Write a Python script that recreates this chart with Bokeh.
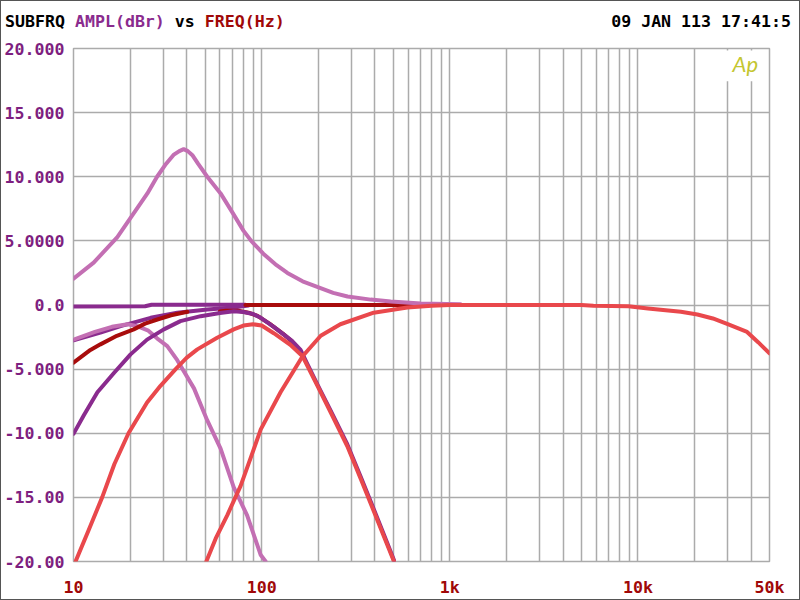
import math
from bokeh.plotting import figure
from bokeh.models import FixedTicker, Label, Range1d, Div
from bokeh.layouts import column
from bokeh.embed import file_html
from bokeh.resources import INLINE

# ---------------- data (Hz, dBr) ----------------
peak_f = [10, 12.8, 17.1, 20.1, 24.7, 27.8, 31, 34, 36.5, 38.5, 40.5, 43, 46, 51.4, 60.5, 70,
          80, 88, 102, 120, 137, 165, 199, 240, 286, 380, 485, 700, 1140]
peak_db = [2.05, 3.3, 5.3, 6.8, 8.7, 10.0, 11.0, 11.7, 12.0, 12.15, 12.0, 11.65, 11.0, 10.0,
           8.7, 7.2, 5.8, 5.0, 4.0, 3.1, 2.5, 1.85, 1.4, 0.95, 0.66, 0.42, 0.27, 0.12, 0.05]

flat_p_f = [10, 24, 26, 82]
flat_p_db = [-0.12, -0.1, 0.02, 0.02]

flat_r_f = [82, 730]
flat_r_db = [0.0, 0.0]

hp_f = [50.8, 57, 65.6, 77.3, 88, 98.9, 126, 165, 206, 262, 394, 594, 800, 1000, 2000, 5000,
        5800, 8900, 11300, 16900, 20700, 25000, 30000, 38000, 43500, 50000]
hp_db = [-20, -18.2, -16.4, -14.1, -11.8, -9.7, -6.8, -4.0, -2.4, -1.5, -0.6, -0.2, -0.05, 0, 0, 0,
         -0.05, -0.1, -0.27, -0.53, -0.74, -1.05, -1.5, -2.1, -2.9, -3.77]

bp_f = [10.25, 12, 14.2, 16.5, 19.6, 24.6, 29, 34.9, 40, 45.5, 58, 71, 80, 90, 100, 116, 142,
        165, 198, 233, 285, 336, 395, 465, 505]
bp_db = [-20, -17.6, -15, -12.4, -10, -7.6, -6.3, -5.0, -4.1, -3.46, -2.55, -1.9, -1.6, -1.5,
         -1.6, -2.2, -3.1, -4.0, -6.3, -8.4, -11.0, -13.55, -16.1, -18.7, -20]

lp_p_f = [10, 11.35, 13.4, 16.4, 20.1, 24.6, 30.2, 37, 47.4, 60, 71, 80, 90, 99, 116, 145, 161,
          175, 198, 233, 285, 336, 395, 465, 505]
lp_p_db = [-10.05, -8.6, -6.8, -5.3, -3.85, -2.7, -1.9, -1.26, -0.87, -0.62, -0.48, -0.55, -0.7,
           -1.0, -1.7, -2.8, -3.5, -4.6, -6.2, -8.25, -10.85, -13.4, -15.95, -18.55, -19.9]

lp_r_f = [60, 64.5, 75, 85, 95, 110, 130, 145, 157, 165]
lp_r_db = [-0.5, -0.44, -0.45, -0.6, -0.85, -1.45, -2.25, -2.85, -3.45, -4.0]

sh_r_f = [10, 12.3, 13.9, 17, 20.9, 24, 27.9, 33, 40.3]
sh_r_db = [-4.5, -3.5, -3.07, -2.4, -1.9, -1.45, -1.13, -0.8, -0.53]

sh_p_f = [10, 13.9, 17.8, 25.7, 35.6, 51.4, 71, 85]
sh_p_db = [-2.76, -2.16, -1.65, -1.0, -0.6, -0.35, -0.2, -0.05]

lo_f = [10, 13, 16, 19.4, 21.8, 25, 27.8, 31.5, 35.6, 43.7, 51.4, 60.5, 71, 83.7, 98.9, 105]
lo_db = [-2.7, -2.1, -1.7, -1.5, -1.65, -2.0, -2.6, -3.2, -4.3, -6.5, -9.0, -11.2, -14.2, -16.4,
         -19.5, -20]

y_ticks = [-20, -15, -10, -5, 0, 5, 10, 15, 20]
y_labels = ["-20.00", "-15.00", "-10.00", "-5.000", "0.0", "5.0000", "10.000", "15.000", "20.000"]
x_ticks = [10, 100, 1000, 10000, 50000]
x_labels = ["10", "100", "1k", "10k", "50k"]
x_grid = [10, 20, 30, 40, 50, 60, 70, 80, 90, 100, 200, 300, 400, 500, 600, 700, 800, 900,
          1000, 2000, 3000, 4000, 5000, 6000, 7000, 8000, 9000, 10000, 20000, 30000, 40000, 50000]

title_parts = ["SUBFRQ", "AMPL(dBr)", "vs", "FREQ(Hz)"]
stamp = "09 JAN 113 17:41:5"
logo = "Ap"

# ---------------- styling ----------------
PINK = "#c36fb3"
PURPLE = "#8a2b8e"
DARKRED = "#a80c0c"
SALMON = "#e9484c"
GRID = "#ababab"
FONT = "DejaVu Sans Mono"
FS = "16.6px"

# frame geometry (pixels in the 800x600 window)
FL, FR, FT, FB = 73, 769, 48, 563
HEAD_H = 28


def px_to_f(x):
    return 10 ** (1 + (x - FL) / (FR - FL) * (math.log10(50000) - 1))


def px_to_db(y):
    return 20 - (y - FT) / (FB - FT) * 40


p = figure(width=798, height=598 - HEAD_H, x_axis_type="log", title=None,
           x_range=Range1d(10, 50000), y_range=Range1d(-20, 20),
           output_backend="svg", toolbar_location=None, margin=0,
           min_border_left=FL - 1, min_border_right=799 - FR, min_border_top=FT - 1 - HEAD_H,
           min_border_bottom=599 - FB)
p.background_fill_color = "white"
p.border_fill_color = "white"
p.outline_line_color = GRID
p.outline_line_width = 1.5

p.xgrid.ticker = FixedTicker(ticks=x_grid)
p.ygrid.ticker = FixedTicker(ticks=y_ticks)
p.xgrid.grid_line_color = GRID
p.ygrid.grid_line_color = GRID
p.xgrid.grid_line_width = 1.5
p.ygrid.grid_line_width = 1.5
p.xgrid.minor_grid_line_color = None

p.xaxis.ticker = FixedTicker(ticks=x_ticks)
p.xaxis.major_label_overrides = {t: l for t, l in zip(x_ticks, x_labels)}
p.yaxis.ticker = FixedTicker(ticks=y_ticks)
p.yaxis.major_label_overrides = {t: l for t, l in zip(y_ticks, y_labels)}
for ax, col in ((p.xaxis, "#a00808"), (p.yaxis, "#7e1f80")):
    ax.axis_line_color = None
    ax.major_tick_line_color = None
    ax.minor_tick_line_color = None
    ax.major_tick_out = 0
    ax.major_tick_in = 0
    ax.minor_tick_out = 0
    ax.major_label_text_font = FONT
    ax.major_label_text_font_style = "bold"
    ax.major_label_text_font_size = FS
    ax.major_label_text_color = col
p.xaxis.major_label_standoff = 16
p.yaxis.major_label_standoff = 9

# white box behind the logo
p.quad(left=[px_to_f(708)], right=[px_to_f(767)], top=[px_to_db(50)], bottom=[px_to_db(81)],
       fill_color="white", line_color=None)

W = 4
kw = dict(line_width=W, line_join="round", line_cap="round")
p.line(flat_p_f, flat_p_db, color=PURPLE, **kw)
p.line(sh_p_f, sh_p_db, color=PURPLE, **kw)
p.line(lo_f, lo_db, color=PINK, **kw)
p.line(sh_r_f, sh_r_db, color=DARKRED, **kw)
p.line(flat_r_f, flat_r_db, color=DARKRED, **kw)
p.line(lp_r_f, lp_r_db, color=DARKRED, **kw)
p.line(lp_p_f, lp_p_db, color=PURPLE, **kw)
p.line(bp_f, bp_db, color=SALMON, **kw)
p.line(peak_f, peak_db, color=PINK, **kw)
p.line(hp_f, hp_db, color=SALMON, **kw)

p.add_layout(Label(x=px_to_f(732), y=px_to_db(63), text=logo, text_font="Lato",
                   text_font_style="italic", text_font_size="22px", text_color="#c4c630",
                   text_baseline="middle", text_align="left"))

head_html = (
    '<div style="display:flex;justify-content:space-between;margin:12px 0 0 4px;width:786px;'
    "font-family:'DejaVu Sans Mono';font-weight:bold;font-size:16.6px;line-height:17px;"
    'color:black;white-space:pre;">'
    '<span>{0} <span style="color:#8a2b8e">{1}</span> {2} '
    '<span style="color:#a00808">{3}</span></span><span>{4}</span></div>'
).format(*title_parts, stamp)
header = Div(text=head_html, width=798, height=HEAD_H, margin=0)

layout = column(header, p, spacing=0, margin=0,
                styles={"border": "1px solid #555555", "background-color": "white"})

open("out.html", "w").write(file_html(layout, INLINE))
